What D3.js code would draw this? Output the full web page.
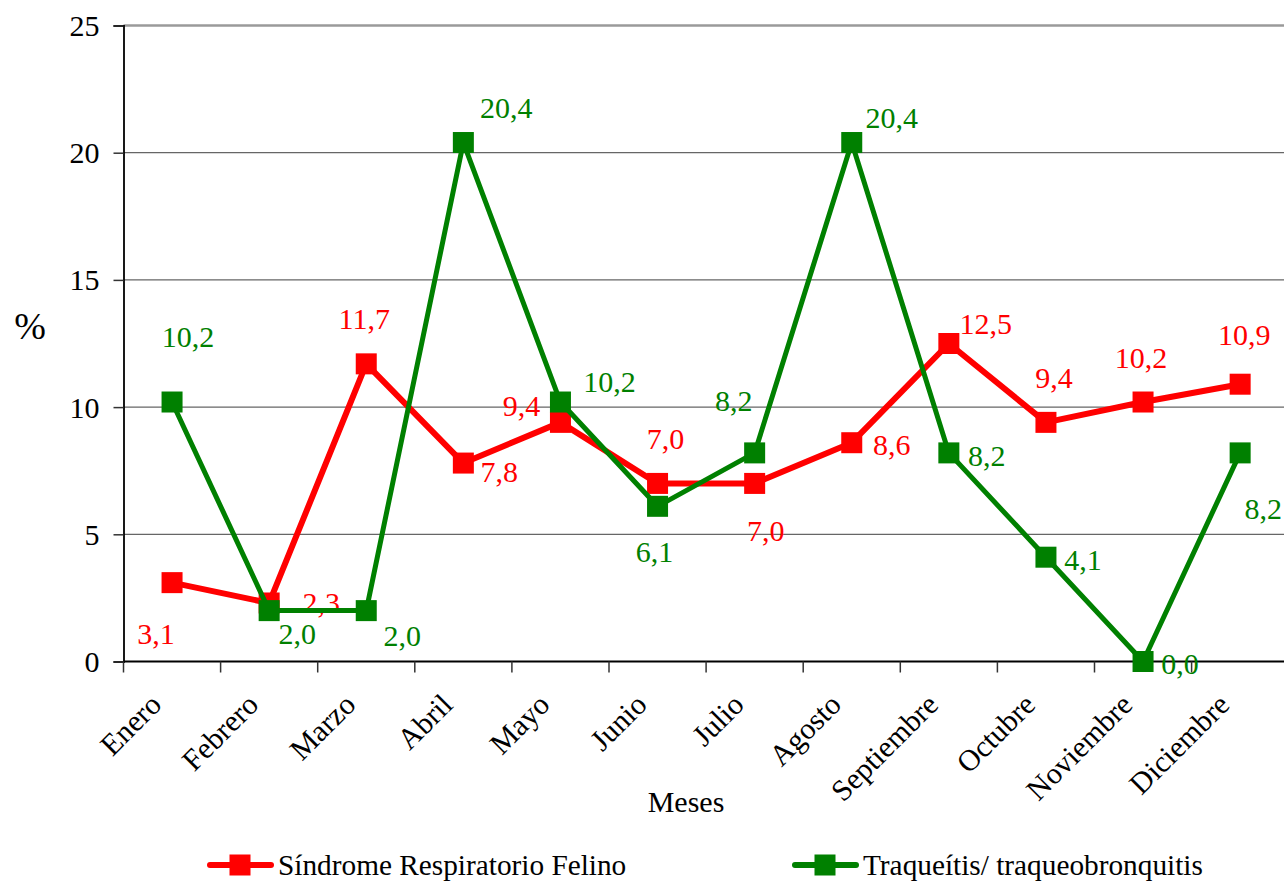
<!DOCTYPE html>
<html>
<head>
<meta charset="utf-8">
<script src="https://cdn.jsdelivr.net/npm/d3@7"></script>
<style>
  body { margin: 0; background: #fff; }
  svg { display: block; }
  text { font-family: "Liberation Serif", "Times New Roman", serif; }
</style>
</head>
<body>
<svg id="chart" width="1284" height="884"></svg>
<script>
// ---- data ----
const months = ["Enero", "Febrero", "Marzo", "Abril", "Mayo", "Junio", "Julio",
                "Agosto", "Septiembre", "Octubre", "Noviembre", "Diciembre"];
const sindromeRespiratorio = [3.1, 2.3, 11.7, 7.8, 9.4, 7.0, 7.0, 8.6, 12.5, 9.4, 10.2, 10.9];
const traqueitis = [10.2, 2.0, 2.0, 20.4, 10.2, 6.1, 8.2, 20.4, 8.2, 4.1, 0.0, 8.2];
const yTicks = [0, 5, 10, 15, 20, 25];
const seriesNames = ["Síndrome Respiratorio Felino", "Traqueítis/ traqueobronquitis"];

// ---- label placement: centre of each value label relative to its point ----
const sindromeLabelOffsets = [[-16, 51], [52, 0], [-2, -45], [36, 9], [-39, -16], [8, -44],
                              [11, 48], [40, 2], [37, -20], [8, -44], [-2, -44], [4, -49]];
const traqueitisLabelOffsets = [[16, -65], [28, 23], [36, 25], [43, -35], [49, -20], [-3, 46],
                                [-21, -52], [40, -25], [38, 3], [37, 3], [37, 2], [23, 56]];

// ---- layout ----
const plotLeft = 123.5, plotTop = 25.5, plotBottom = 661.5, step = 97.1;
const svg = d3.select("#chart");
const x = d3.scaleBand().domain(months).range([plotLeft, plotLeft + step * months.length]);
const y = d3.scaleLinear().domain([0, 25]).range([plotBottom, plotTop]);
const fmt = v => d3.format(".1f")(v).replace(".", ",");
const FONT = 30;

// horizontal gridlines
svg.append("g").selectAll("line").data(yTicks.filter(t => t > 0)).join("line")
  .attr("x1", plotLeft).attr("x2", 1284)
  .attr("y1", d => y(d)).attr("y2", d => y(d))
  .attr("stroke", d => d === 25 ? "#9a9a9a" : "#666")
  .attr("stroke-width", d => d === 25 ? 2.5 : 1.2);

// y axis
const yAxis = svg.append("g").attr("transform", `translate(${plotLeft},0)`)
  .call(d3.axisLeft(y).tickValues(yTicks).tickSize(10).tickPadding(14));
yAxis.select(".domain").attr("stroke", "#000").attr("stroke-width", 1.8);
yAxis.selectAll(".tick line").attr("stroke", "#333").attr("stroke-width", 1.5);
yAxis.selectAll(".tick text").attr("font-size", FONT).attr("fill", "#000")
  .attr("font-family", "Liberation Serif").attr("dy", "0.33em");

// x axis: ticks at category boundaries
const xAxis = svg.append("g");
xAxis.append("line").attr("x1", plotLeft).attr("x2", 1284).attr("y1", plotBottom).attr("y2", plotBottom)
  .attr("stroke", "#000").attr("stroke-width", 1.8);
xAxis.selectAll("line.tick").data(d3.range(months.length + 1)).join("line").attr("class", "tick")
  .attr("x1", i => plotLeft + i * x.step()).attr("x2", i => plotLeft + i * x.step())
  .attr("y1", plotBottom).attr("y2", plotBottom + 11)
  .attr("stroke", "#333").attr("stroke-width", 1.5);
xAxis.selectAll("text").data(months).join("text")
  .attr("transform", d => `translate(${x(d) + x.bandwidth() / 2 - 9},${plotBottom + 45}) rotate(-45)`)
  .attr("text-anchor", "end").attr("font-size", FONT).attr("fill", "#000")
  .text(d => d);

// axis titles
svg.append("text").attr("x", 686).attr("y", 812).attr("text-anchor", "middle")
  .attr("font-size", FONT).attr("fill", "#000").text("Meses");
svg.append("text").attr("x", 30).attr("y", 339).attr("text-anchor", "middle")
  .attr("font-size", 38).attr("fill", "#000").text("%");

// series
const series = [
  { name: seriesNames[0], values: sindromeRespiratorio, offsets: sindromeLabelOffsets, color: "#ff0000", width: 6 },
  { name: seriesNames[1], values: traqueitis, offsets: traqueitisLabelOffsets, color: "#008000", width: 5 }
];
const cx = i => x(months[i]) + x.bandwidth() / 2;
const line = d3.line().x((d, i) => cx(i)).y(d => y(d));
const MS = 21;

series.forEach(s => {
  const g = svg.append("g");
  g.append("path").datum(s.values).attr("d", line)
    .attr("fill", "none").attr("stroke", s.color).attr("stroke-width", s.width)
    .attr("stroke-linejoin", "round");
  g.selectAll("rect").data(s.values).join("rect")
    .attr("x", (d, i) => cx(i) - MS / 2).attr("y", d => y(d) - MS / 2)
    .attr("width", MS).attr("height", MS).attr("fill", s.color);
  g.selectAll("text").data(s.values).join("text")
    .attr("x", (d, i) => cx(i) + s.offsets[i][0])
    .attr("y", (d, i) => y(d) + s.offsets[i][1] + 10)
    .attr("text-anchor", "middle").attr("font-size", FONT).attr("fill", s.color)
    .text(d => fmt(d));
});

// legend
const legendItems = [
  { x: 210, s: series[0] },
  { x: 795, s: series[1] }
];
const ly = 865;
legendItems.forEach(it => {
  const g = svg.append("g").attr("transform", `translate(${it.x},${ly})`);
  g.append("line").attr("x1", 0).attr("x2", 61).attr("y1", 0).attr("y2", 0)
    .attr("stroke", it.s.color).attr("stroke-width", 6).attr("stroke-linecap", "round");
  g.append("rect").attr("x", 30 - MS / 2).attr("y", -MS / 2).attr("width", MS).attr("height", MS)
    .attr("fill", it.s.color);
  g.append("text").attr("x", 68).attr("y", 10).attr("font-size", 29.3).attr("fill", "#000")
    .text(it.s.name);
});
</script>
</body>
</html>
